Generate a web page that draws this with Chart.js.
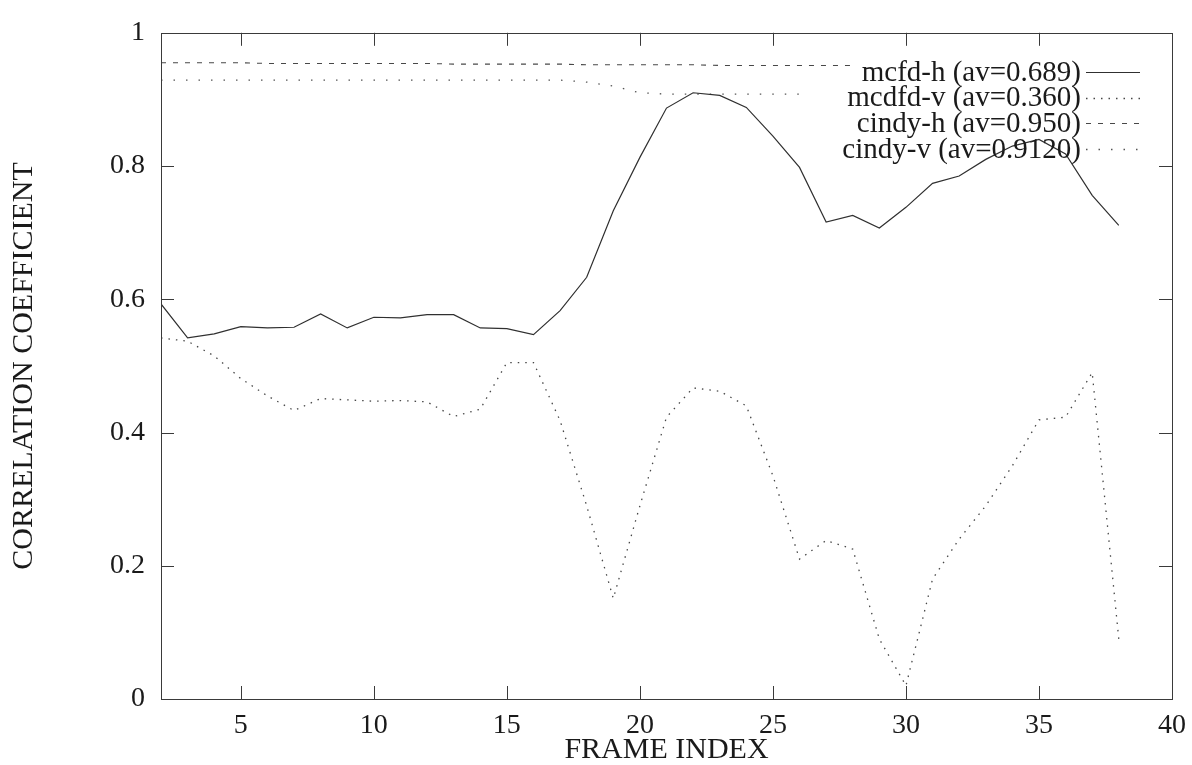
<!DOCTYPE html>
<html>
<head>
<meta charset="utf-8">
<script src="https://cdn.jsdelivr.net/npm/chart.js@4.4.1/dist/chart.umd.min.js"></script>
<style>
  html, body { margin: 0; padding: 0; background: #ffffff; }
  #wrap { width: 1192px; height: 765px; }
</style>
</head>
<body>
<div id="wrap"><canvas id="c" width="1192" height="765"></canvas></div>
<script>
// ---- data ----
const frames = [2,3,4,5,6,7,8,9,10,11,12,13,14,15,16,17,18,19,20,21,22,23,24,25,26,27,28,29,30,31,32,33,34,35,36,37,38];
const mcfdH  = [0.593,0.542,0.548,0.559,0.557,0.558,0.578,0.557,0.573,0.572,0.577,0.577,0.557,0.556,0.547,0.583,0.633,0.733,0.813,0.887,0.910,0.906,0.888,0.845,0.798,0.716,0.726,0.707,0.738,0.774,0.785,0.810,0.830,0.840,0.818,0.756,0.711];
const mcdfdV = [0.542,0.537,0.515,0.481,0.455,0.433,0.451,0.449,0.447,0.448,0.446,0.424,0.435,0.505,0.505,0.418,0.290,0.151,0.290,0.423,0.467,0.462,0.440,0.335,0.210,0.238,0.225,0.090,0.020,0.180,0.240,0.290,0.350,0.419,0.423,0.490,0.090];
const cindyHFrames = [2,3,4,5,6,7,8,9,10,11,12,13,14,15,16,17,18,19,20,21,22,23,24,25,26,27,28];
const cindyH = [0.955,0.955,0.955,0.955,0.954,0.954,0.954,0.954,0.954,0.954,0.954,0.953,0.953,0.953,0.953,0.953,0.952,0.952,0.952,0.952,0.952,0.951,0.951,0.951,0.951,0.951,0.951];
const cindyVFrames = [2,3,4,5,6,7,8,9,10,11,12,13,14,15,16,17,18,19,20,21,22,23,24,25,26];
const cindyV = [0.929,0.929,0.929,0.929,0.929,0.929,0.929,0.929,0.929,0.929,0.929,0.929,0.929,0.929,0.929,0.929,0.926,0.920,0.910,0.908,0.908,0.908,0.908,0.908,0.908];
const seriesLabels = ['mcfd-h (av=0.689)', 'mcdfd-v (av=0.360)', 'cindy-h (av=0.950)', 'cindy-v (av=0.9120)'];
const xTickValues = [5,10,15,20,25,30,35,40];
const yTickValues = [0,0.2,0.4,0.6,0.8,1];
const yTickLabels = ['0','0.2','0.4','0.6','0.8','1'];
const xTitle = 'FRAME INDEX';
const yTitle = 'CORRELATION COEFFICIENT';

const pts = (xs, ys) => ys.map((v, i) => ({x: xs[i], y: v}));
const FONT = 'Liberation Serif, Times New Roman, serif';

// frame with inward tick marks on all four sides
const frameTicks = {
  id: 'frameTicks',
  afterDraw(chart) {
    const {ctx, chartArea: a, scales: {x, y}} = chart;
    ctx.save();
    ctx.strokeStyle = '#3a3a3a';
    ctx.lineWidth = 1;
    ctx.strokeRect(Math.round(a.left) + 0.5, Math.round(a.top) + 0.5,
                   Math.round(a.right - a.left), Math.round(a.bottom - a.top));
    const L = 13;
    ctx.beginPath();
    x.ticks.forEach(t => {
      if (t.value <= x.min || t.value >= x.max) return;
      const px = Math.round(x.getPixelForValue(t.value)) + 0.5;
      ctx.moveTo(px, a.bottom); ctx.lineTo(px, a.bottom - L);
      ctx.moveTo(px, a.top);    ctx.lineTo(px, a.top + L);
    });
    y.ticks.forEach(t => {
      if (t.value <= y.min || t.value >= y.max) return;
      const py = Math.round(y.getPixelForValue(t.value)) + 0.5;
      ctx.moveTo(a.left, py);  ctx.lineTo(a.left + L, py);
      ctx.moveTo(a.right, py); ctx.lineTo(a.right - L, py);
    });
    ctx.stroke();
    ctx.restore();
  }
};

// gnuplot-style key: right-aligned text, sample line to its right
const keyPlugin = {
  id: 'keyPlugin',
  afterDatasetsDraw(chart) {
    const {ctx, chartArea: a} = chart;
    const textRight = a.right - 91;
    const sx0 = a.right - 86, sx1 = a.right - 32;
    const firstCenter = a.top + 38, pitch = 25.7;
    ctx.save();
    ctx.font = '29px ' + FONT;
    ctx.fillStyle = '#1a1a1a';
    ctx.textAlign = 'right';
    ctx.textBaseline = 'alphabetic';
    chart.data.datasets.forEach((ds, i) => {
      const cy = firstCenter + i * pitch;
      ctx.fillText(ds.label, textRight, cy + 9.8);
      ctx.beginPath();
      ctx.setLineDash(ds.borderDash || []);
      ctx.strokeStyle = ds.borderColor;
      ctx.lineWidth = ds.borderWidth;
      ctx.moveTo(sx0, Math.round(cy + 1) + 0.5);
      ctx.lineTo(sx1, Math.round(cy + 1) + 0.5);
      ctx.stroke();
    });
    ctx.restore();
  }
};

new Chart(document.getElementById('c'), {
  type: 'line',
  data: {
    datasets: [
      { label: seriesLabels[0], data: pts(frames, mcfdH), borderColor: '#303030', borderWidth: 1.2, borderDash: [] },
      { label: seriesLabels[1], data: pts(frames, mcdfdV), borderColor: '#474747', borderWidth: 1.3, borderDash: [1.5, 6] },
      { label: seriesLabels[2], data: pts(cindyHFrames, cindyH), borderColor: '#484848', borderWidth: 1.1, borderDash: [5, 7] },
      { label: seriesLabels[3], data: pts(cindyVFrames, cindyV), borderColor: '#555555', borderWidth: 1.3, borderDash: [1.5, 11] }
    ]
  },
  options: {
    responsive: false,
    animation: false,
    devicePixelRatio: 1,
    layout: { padding: { left: 0, right: 20, top: 23, bottom: 0 } },
    elements: { point: { radius: 0 }, line: { tension: 0, fill: false } },
    plugins: { legend: { display: false }, tooltip: { enabled: false } },
    scales: {
      x: {
        type: 'linear', min: 2, max: 40,
        afterBuildTicks: s => { s.ticks = xTickValues.map(v => ({value: v})); },
        afterFit: s => { s.height = 66; s.paddingRight = 0; s.paddingLeft = 0; },
        grid: { display: false, drawTicks: false },
        border: { display: false },
        ticks: { padding: 10, color: '#1a1a1a', font: { family: FONT, size: 28 }, maxRotation: 0 },
        title: { display: true, text: xTitle, color: '#1a1a1a', font: { family: FONT, size: 30, lineHeight: 1 }, padding: { top: 0, bottom: 0 } }
      },
      y: {
        type: 'linear', min: 0, max: 1,
        afterBuildTicks: s => { s.ticks = yTickValues.map(v => ({value: v})); },
        afterFit: s => { s.width = 161; },
        grid: { display: false, drawTicks: false },
        border: { display: false },
        ticks: { padding: 16, color: '#1a1a1a', font: { family: FONT, size: 28 },
                 callback: (v) => { const k = yTickValues.indexOf(v); return k >= 0 ? yTickLabels[k] : ''; } },
        title: { display: true, text: yTitle, color: '#1a1a1a', font: { family: FONT, size: 30, lineHeight: 1 }, padding: { top: 9, bottom: 0 } }
      }
    }
  },
  plugins: [frameTicks, keyPlugin]
});
</script>
</body>
</html>
